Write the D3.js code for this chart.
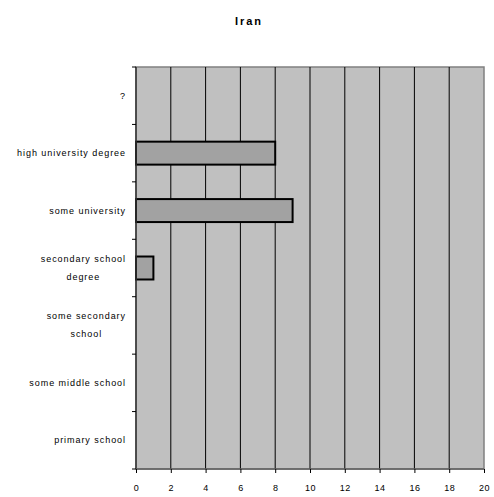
<!DOCTYPE html>
<html><head><meta charset="utf-8">
<script src="https://cdn.jsdelivr.net/npm/d3@7"></script>
<style>body{margin:0;background:#fff}</style>
</head><body>
<svg id="c" width="494" height="497"></svg>
<script>
const categories = [["?"], ["high university degree"], ["some university"], ["secondary school", "degree"], ["some secondary", "school"], ["some middle school"], ["primary school"]];
const values = [0, 8, 9, 1, 0, 0, 0];
const xTicks = [0, 2, 4, 6, 8, 10, 12, 14, 16, 18, 20];
const title = "Iran";

const svg = d3.select("#c");
const L = 136, R = 484, T = 67, B = 469;
const x = d3.scaleLinear().domain([0, 20]).range([L, R]);
const y = d3.scaleBand().domain(d3.range(categories.length)).range([T, B]).paddingInner(0.6).paddingOuter(0.3);
const yb = d3.scaleBand().domain(d3.range(categories.length)).range([T, B]);

svg.append("text").attr("x", 249).attr("y", 25).attr("text-anchor", "middle")
  .attr("font-family", "Liberation Sans, Arial, sans-serif").attr("font-weight", "bold")
  .attr("font-size", 11).attr("letter-spacing", 2).text(title);

svg.append("rect").attr("x", L).attr("y", T).attr("width", R - L).attr("height", B - T)
  .attr("fill", "#c0c0c0").attr("stroke", "#808080").attr("stroke-width", 1.5);

svg.append("g").selectAll("line").data(xTicks.slice(1, -1)).join("line")
  .attr("x1", d => x(d)).attr("x2", d => x(d)).attr("y1", T).attr("y2", B)
  .attr("stroke", "#000").attr("stroke-width", 1);

svg.append("g").selectAll("rect").data(values.map((v, i) => ({v, i})).filter(d => d.v > 0)).join("rect")
  .attr("x", x(0)).attr("y", d => y(d.i)).attr("width", d => x(d.v) - x(0)).attr("height", y.bandwidth())
  .attr("fill", "#a2a2a2").attr("stroke", "#000").attr("stroke-width", 2);

// left axis
svg.append("line").attr("x1", L).attr("x2", L).attr("y1", T).attr("y2", B).attr("stroke", "#333").attr("stroke-width", 1.5);
const yt = d3.range(categories.length + 1).map(i => T + i * yb.step());
svg.append("g").selectAll("line").data(yt).join("line")
  .attr("x1", L - 4).attr("x2", L).attr("y1", d => d).attr("y2", d => d).attr("stroke", "#000");
// bottom axis
svg.append("line").attr("x1", L).attr("x2", R).attr("y1", B).attr("y2", B).attr("stroke", "#606060").attr("stroke-width", 1.5);
const xa = svg.append("g").attr("transform", `translate(0,${B})`)
  .call(d3.axisBottom(x).tickValues(xTicks).tickSize(4).tickPadding(12).tickFormat(d3.format("d")));
xa.select(".domain").remove();
xa.selectAll("line").attr("stroke", "#000");
xa.selectAll("text").attr("font-family", "Liberation Sans, Arial, sans-serif").attr("font-size", 9).attr("letter-spacing", 0.5).attr("fill", "#000");

// category labels
const lg = svg.append("g").attr("font-family", "Liberation Sans, Arial, sans-serif").attr("font-size", 9).attr("fill", "#000");
categories.forEach((lines, i) => {
  const cy = yb(i) + yb.step() / 2;
  if (lines.length === 1) {
    lg.append("text").attr("x", 126).attr("y", cy + 3).attr("text-anchor", "end").attr("letter-spacing", 0.95).text(lines[0]);
  } else {
    const t = lg.append("text").attr("text-anchor", "middle").attr("letter-spacing", 0.95);
    lines.forEach((s, k) => t.append("tspan").attr("x", 0).attr("y", cy - 6 + k * 18).text(s));
    const w = t.node().getBBox().width;
    t.selectAll("tspan").attr("x", 126 - w / 2);
  }
});
</script>
</body></html>
